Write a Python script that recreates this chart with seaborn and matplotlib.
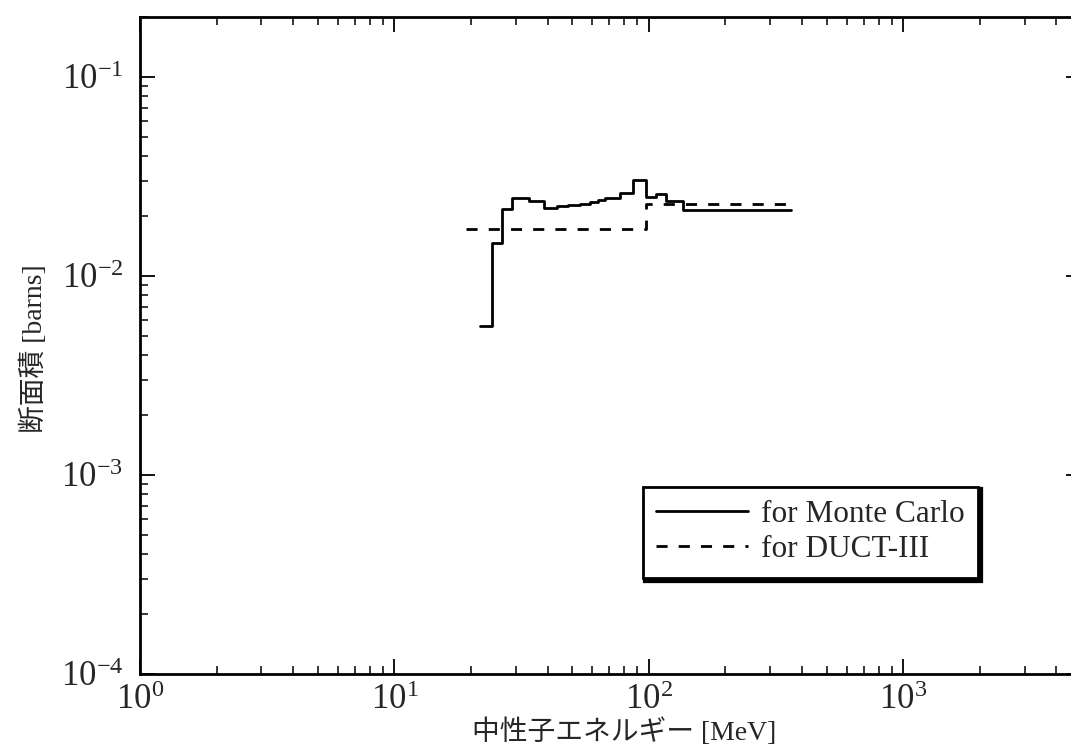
import numpy as np
import pandas as pd
import matplotlib
matplotlib.use("Agg")
import matplotlib.pyplot as plt
import seaborn as sns
from matplotlib.ticker import LogLocator, LogFormatterSciNotation, NullFormatter

# ---- data ----
mc_edges = [21.7, 24.2, 26.4, 29.1, 33.9, 38.7, 43.4, 48.2, 53.5, 58.7, 63.2,
            67.2, 76.9, 86.8, 97.3, 107.0, 116.6, 136.5, 363.0]
mc_values = [0.00561, 0.0146, 0.0218, 0.0247, 0.0238, 0.0219, 0.0224, 0.0227,
             0.0231, 0.0235, 0.0242, 0.0247, 0.0261, 0.0303, 0.0249, 0.0259,
             0.0238, 0.0215]
duct_edges = [19.2, 97.3, 368.0]
duct_values = [0.0173, 0.0231]
series_labels = ["for Monte Carlo", "for DUCT-III"]
x_label = "中性子エネルギー [MeV]"
y_label = "断面積 [barns]"

sns.set_theme(style="ticks")
plt.rcParams["font.family"] = ["Liberation Serif", "Noto Sans CJK JP", "DejaVu Sans"]
plt.rcParams["mathtext.fontset"] = "custom"
plt.rcParams["mathtext.rm"] = "Liberation Serif"
plt.rcParams["mathtext.it"] = "Liberation Serif:italic"
plt.rcParams["mathtext.bf"] = "Liberation Serif:bold"
plt.rcParams["axes.unicode_minus"] = True

fig = plt.figure(figsize=(10.71, 7.46), dpi=100)
ax = fig.add_axes([140 / 1071, (746 - 674) / 746, (1081 - 140) / 1071, (674 - 17) / 746])

mc_df = pd.DataFrame({"E": mc_edges, "sigma": mc_values + [mc_values[-1]]})
duct_df = pd.DataFrame({"E": duct_edges, "sigma": duct_values + [duct_values[-1]]})

sns.lineplot(data=mc_df, x="E", y="sigma", drawstyle="steps-post", color="black",
             lw=2.0, label=series_labels[0], ax=ax)
sns.lineplot(data=duct_df, x="E", y="sigma", drawstyle="steps-post", color="black",
             lw=2.0, label=series_labels[1], ax=ax)
ax.lines[1].set_linestyle((0, (4.0, 4.0)))

ax.set_xscale("log")
ax.set_yscale("log")
ax.set_xlim(1, 5000)
ax.set_ylim(1e-4, 0.2)

for side in ["left", "bottom", "top", "right"]:
    ax.spines[side].set_visible(True)
    ax.spines[side].set_linewidth(2.0)
    ax.spines[side].set_color("black")

ax.xaxis.set_major_locator(LogLocator(base=10, numticks=10))
ax.xaxis.set_minor_locator(LogLocator(base=10, subs=np.arange(2, 10), numticks=20))
ax.yaxis.set_major_locator(LogLocator(base=10, numticks=10))
ax.yaxis.set_minor_locator(LogLocator(base=10, subs=np.arange(2, 10), numticks=20))
ax.xaxis.set_major_formatter(LogFormatterSciNotation())
ax.yaxis.set_major_formatter(LogFormatterSciNotation())
ax.xaxis.set_minor_formatter(NullFormatter())
ax.yaxis.set_minor_formatter(NullFormatter())

ax.tick_params(which="both", direction="in", top=True, right=True, color="black")
ax.tick_params(which="major", length=11, width=1.3)
ax.tick_params(which="minor", length=5.5, width=1.1)
ax.tick_params(axis="y", which="major", pad=12, labelsize=25)
ax.tick_params(axis="x", which="major", pad=7, labelsize=25)

ax.set_xlabel(x_label, fontsize=20)
ax.set_ylabel(y_label, fontsize=20)
ax.xaxis.set_label_coords(0.515, -0.068)
ax.yaxis.set_label_coords(-0.098, 0.495)
ax.grid(False)

leg = ax.legend(loc="upper left", bbox_to_anchor=(0.5345, 0.2846), borderaxespad=0,
                fontsize=22.5, handlelength=2.95, handletextpad=0.4, borderpad=0.42,
                labelspacing=0.2, frameon=True, fancybox=False,
                shadow={"color": "black", "alpha": 1, "linewidth": 4.5})
leg.get_frame().set_edgecolor("black")
leg.get_frame().set_linewidth(2.0)
leg.get_frame().set_facecolor("white")

fig.savefig("out.png", dpi=100)
